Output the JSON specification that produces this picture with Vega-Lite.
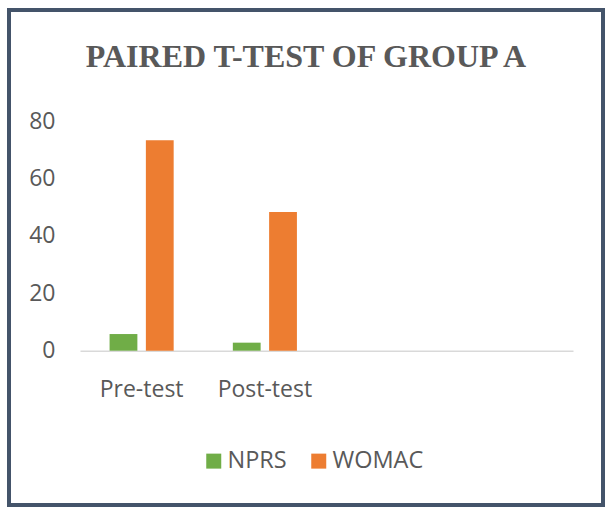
{
  "$schema": "https://vega.github.io/schema/vega-lite/v6.json",
  "width": 594,
  "height": 495,
  "autosize": {"type": "none"},
  "padding": {"left": 9, "top": 10, "right": 2, "bottom": 3},
  "background": "white",
  "title": {
    "text": "PAIRED T-TEST OF GROUP A",
    "font": "Liberation Serif",
    "fontSize": 32,
    "fontWeight": "bold",
    "color": "#595959",
    "anchor": "middle",
    "frame": "group",
    "baseline": "alphabetic",
    "offset": -89
  },
  "data": {
    "values": [
      {"test": "Pre-test", "measure": "NPRS", "value": 5.8},
      {"test": "Pre-test", "measure": "WOMAC", "value": 73.3},
      {"test": "Post-test", "measure": "NPRS", "value": 2.8},
      {"test": "Post-test", "measure": "WOMAC", "value": 48.3}
    ]
  },
  "mark": {"type": "bar"},
  "encoding": {
    "x": {
      "field": "test",
      "type": "nominal",
      "sort": null,
      "scale": {
        "domain": ["Pre-test", "Post-test", " ", "  "],
        "range": [71, 564],
        "paddingInner": 0.48,
        "paddingOuter": 0.24
      },
      "axis": {
        "title": null,
        "labelAngle": 0,
        "ticks": false,
        "domainColor": "#D9D9D9",
        "domainWidth": 1.5,
        "labelPadding": 28,
        "offset": -154.3,
        "labelFont": "Open Sans",
        "labelFontSize": 23,
        "labelColor": "#595959"
      }
    },
    "xOffset": {
      "field": "measure",
      "type": "nominal",
      "scale": {"paddingInner": 0.234, "paddingOuter": 0}
    },
    "y": {
      "field": "value",
      "type": "quantitative",
      "scale": {"domain": [0, 80], "range": [340.7, 111], "nice": false},
      "axis": {
        "title": null,
        "values": [0, 20, 40, 60, 80],
        "grid": false,
        "domain": false,
        "ticks": false,
        "labelPadding": 0,
        "offset": -46,
        "labelFont": "Open Sans",
        "labelFontSize": 23,
        "labelColor": "#595959"
      }
    },
    "color": {
      "field": "measure",
      "type": "nominal",
      "scale": {"domain": ["NPRS", "WOMAC"], "range": ["#70AD47", "#ED7D31"]},
      "legend": {
        "title": null,
        "orient": "none",
        "legendX": 193,
        "legendY": 439,
        "direction": "horizontal",
        "symbolType": "square",
        "symbolSize": 225,
        "symbolStrokeWidth": 0,
        "labelFont": "Open Sans",
        "labelFontSize": 23.5,
        "labelColor": "#595959",
        "labelOffset": 2,
        "columnPadding": 20
      }
    }
  },
  "config": {
    "view": {"stroke": "#44546A", "strokeWidth": 4}
  }
}
